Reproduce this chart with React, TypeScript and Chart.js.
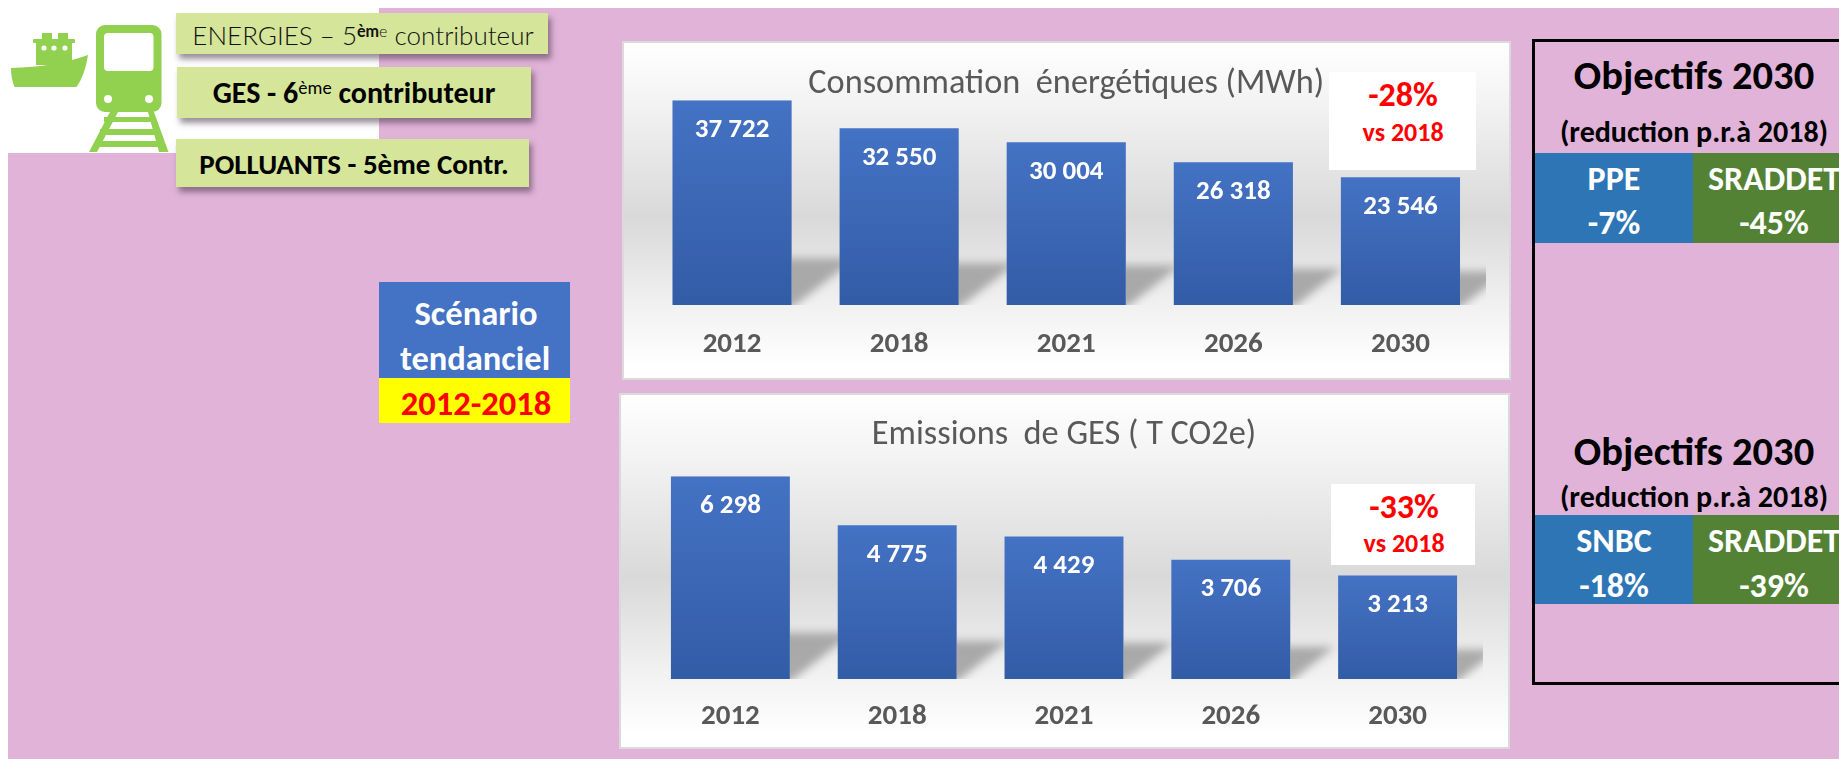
import React, { useEffect, useRef } from "react";
import { Chart, registerables } from "chart.js";

Chart.register(...registerables);

const years = ["2012", "2018", "2021", "2026", "2030"];
const energyValues = [37722, 32550, 30004, 26318, 23546];
const gesValues = [6298, 4775, 4429, 3706, 3213];
const energyTitle = "Consommation  énergétiques (MWh)";
const gesTitle = "Emissions  de GES ( T CO2e)";

const FONT = "Carlito, Lato, 'Open Sans', sans-serif";
const PINK = "#E1B3D9";
const BOXGREEN = "#D5E59A";

const fmt = (n: number) => String(n).replace(/\B(?=(\d{3})+$)/g, " ");

const barDecor = {
  id: "barDecor",
  beforeDatasetsDraw(chart: any) {
    const ctx = chart.ctx;
    chart.getDatasetMeta(0).data.forEach((el: any) => {
      const right = el.x + el.width / 2;
      const h = (el.base - el.y) * 0.17 + 12;
      const run = h * 1.36;
      ctx.save();
      ctx.beginPath();
      ctx.rect(right, el.base - h - 20, chart.chartArea.right + 2 - right, h + 20);
      ctx.clip();
      ctx.filter = "blur(4px)";
      ctx.fillStyle = "rgba(165,165,165,0.95)";
      ctx.beginPath();
      ctx.moveTo(right - 20, el.base - h);
      ctx.lineTo(right + run, el.base - h);
      ctx.lineTo(right, el.base + 3);
      ctx.lineTo(right - 20, el.base + 3);
      ctx.closePath();
      ctx.fill();
      ctx.restore();
    });
  },
  afterDatasetsDraw(chart: any) {
    const ctx = chart.ctx;
    const values = chart.data.datasets[0].data;
    ctx.save();
    ctx.fillStyle = "#FFFFFF";
    ctx.font = `bold 27px ${FONT}`;
    ctx.textAlign = "center";
    ctx.textBaseline = "middle";
    chart.getDatasetMeta(0).data.forEach((el: any, i: number) => {
      ctx.fillText(fmt(values[i]), el.x, el.y + 30);
    });
    ctx.restore();
  },
};

type BarProps = {
  values: number[];
  title: string;
  left: number;
  top: number;
  width: number;
  height: number;
  padLeft: number;
  padRight: number;
  titleTop: number;
  titleBottom: number;
  tickPad: number;
  padBottom: number;
};

function BarPanel(p: BarProps) {
  const ref = useRef<HTMLCanvasElement>(null);
  useEffect(() => {
    const chart = new Chart(ref.current as HTMLCanvasElement, {
      type: "bar",
      data: {
        labels: years,
        datasets: [
          {
            data: p.values,
            barPercentage: 0.713,
            categoryPercentage: 1,
            backgroundColor: (c: any) => {
              const y = c.chart.scales?.y;
              const v = c.raw;
              if (!y || typeof v !== "number") return "#4472C4";
              const y0 = y.getPixelForValue(v);
              const y1 = y.getPixelForValue(0);
              if (!Number.isFinite(y0) || !Number.isFinite(y1)) return "#4472C4";
              const g = c.chart.ctx.createLinearGradient(0, y0, 0, y1);
              g.addColorStop(0, "#4472C4");
              g.addColorStop(1, "#335CA6");
              return g;
            },
          },
        ],
      },
      options: {
        animation: false,
        responsive: false,
        layout: { padding: { left: p.padLeft, right: p.padRight, bottom: p.padBottom, top: 0 } },
        plugins: {
          legend: { display: false },
          tooltip: { enabled: false },
          title: {
            display: true,
            text: p.title,
            color: "#595959",
            font: { family: FONT, size: 34.3, weight: "normal", lineHeight: 1 },
            padding: { top: p.titleTop, bottom: p.titleBottom },
          },
        },
        scales: {
          x: {
            grid: { display: false, drawTicks: false },
            border: { display: false },
            afterFit: (axis: any) => {
              axis.height = p.tickPad + 34.8;
            },
            ticks: {
              color: "#595959",
              font: { family: FONT, size: 29, weight: "bold", lineHeight: 1.2 },
              padding: p.tickPad,
              maxRotation: 0,
            },
          },
          y: { display: false, min: 0, max: Math.max(...p.values) },
        },
      },
      plugins: [barDecor],
    } as any);
    return () => chart.destroy();
  }, []);
  return (
    <div
      style={{
        position: "absolute",
        left: p.left,
        top: p.top,
        width: p.width,
        height: p.height,
        background: "linear-gradient(180deg,#FFFFFF 0%,#F6F6F6 14%,#D9D9D9 52%,#F1F1F1 78%,#FFFFFF 96%)",
        outline: "2px solid #DADADA",
        outlineOffset: -2,
      }}
    >
      <canvas ref={ref} width={p.width} height={p.height} style={{ display: "block" }} />
    </div>
  );
}

function T(props: { x: number; y: number; size: number; color?: string; weight?: number; family?: string; spacing?: number; children: React.ReactNode }) {
  return (
    <div
      style={{
        position: "absolute",
        left: props.x,
        top: props.y,
        transform: "translate(-50%,-50%)",
        whiteSpace: "pre",
        fontFamily: props.family ?? FONT,
        fontSize: props.size,
        fontWeight: props.weight ?? 700,
        color: props.color ?? "#000",
        letterSpacing: props.spacing ?? 0,
        lineHeight: 1,
      }}
    >
      {props.children}
    </div>
  );
}

function Rect(props: { x: number; y: number; w: number; h: number; bg: string; shadow?: string }) {
  return (
    <div
      style={{
        position: "absolute",
        left: props.x,
        top: props.y,
        width: props.w,
        height: props.h,
        background: props.bg,
        boxShadow: props.shadow,
      }}
    />
  );
}

function Icons() {
  const G = "#92D050";
  return (
    <svg width={180} height={155} style={{ position: "absolute", left: 0, top: 0 }}>
      <g fill={G}>
        <path d="M11 68 Q55 67 88 55 Q85 75 76.5 87 L14.5 87 Q11 78 11 68 Z" />
        <rect x={36} y={41} width={36} height={24} />
        <rect x={33} y={39} width={42} height={4} rx={1} />
        <rect x={42} y={33} width={10} height={7} />
        <rect x={58} y={33} width={10} height={7} />
        <rect x={96} y={25} width={65.5} height={87} rx={9} />
        <path d="M110 112 L118 112 L97 152 L89 152 Z" />
        <path d="M148 112 L154 112 L168.5 152 L159 152 Z" />
        <rect x={104} y={117} width={50} height={5} />
        <rect x={100} y={129} width={58} height={6} />
        <rect x={95} y={141} width={68} height={6} />
      </g>
      <g fill="#fff">
        <circle cx={44} cy={48} r={2.6} />
        <circle cx={54} cy={48} r={2.6} />
        <circle cx={65} cy={48} r={2.6} />
        <rect x={104} y={33} width={49.5} height={38} rx={4} />
        <circle cx={108} cy={99} r={4} />
        <circle cx={149} cy={99} r={4} />
      </g>
    </svg>
  );
}

function Objectives(p: { y1: number; y2: number; cellTop: number; cellH: number; left: string; leftValue: string; rightValue: string; yA: number; yB: number }) {
  return (
    <>
      <T x={1694} y={p.y1} size={40.5}>Objectifs 2030</T>
      <T x={1694} y={p.y2} size={30}>(reduction p.r.à 2018)</T>
      <Rect x={1535} y={p.cellTop} w={158} h={p.cellH} bg="#2E75B6" />
      <Rect x={1693} y={p.cellTop} w={146} h={p.cellH} bg="#548235" />
      <T x={1614} y={p.yA} size={34} color="#fff">{p.left}</T>
      <T x={1614} y={p.yB} size={34} color="#fff">{p.leftValue}</T>
      <T x={1774} y={p.yA} size={34} color="#fff">SRADDET</T>
      <T x={1774} y={p.yB} size={34} color="#fff">{p.rightValue}</T>
    </>
  );
}

export default function App() {
  const shadow = "3px 5px 6px rgba(70,50,70,0.55)";
  const sup: React.CSSProperties = { fontSize: "0.62em", verticalAlign: "0.5em", lineHeight: 0 };
  return (
    <div style={{ position: "absolute", left: 0, top: 0, width: 1839, height: 759, overflow: "hidden", background: "#fff" }}>
      <Rect x={8} y={153} w={1831} h={606} bg={PINK} />
      <Rect x={379} y={8} w={1460} h={751} bg={PINK} />
      <Icons />

      <Rect x={176} y={13} w={372} h={41} bg={BOXGREEN} shadow={shadow} />
      <T x={363} y={35} size={26} weight={300} color="#111" family="Lato, sans-serif">
        ENERGIES – 5<span style={{ ...sup, fontWeight: 700 }}>èm</span><span style={sup}>e</span> contributeur
      </T>
      <Rect x={177} y={67} w={354} h={51} bg={BOXGREEN} shadow={shadow} />
      <T x={354} y={93} size={30}>GES - 6<span style={{ ...sup, fontWeight: 400 }}>ème</span> contributeur</T>
      <Rect x={176} y={139} w={353} h={48} bg={BOXGREEN} shadow={shadow} />
      <T x={354} y={164} size={29}>POLLUANTS - 5ème Contr.</T>

      <Rect x={379} y={282} w={191} h={96} bg="#4472C4" />
      <Rect x={379} y={378} w={191} h={45} bg="#FFFF00" />
      <T x={476} y={313} size={34.5} color="#fff">Scénario</T>
      <T x={475} y={358} size={34.5} color="#fff">tendanciel</T>
      <T x={476} y={403} size={34.5} color="#FF0000">2012-2018</T>

      <BarPanel values={energyValues} title={energyTitle} left={622} top={41} width={889} height={339}
        padLeft={26.5} padRight={27} titleTop={26} titleBottom={-1} tickPad={22.6} padBottom={17.6} />
      <BarPanel values={gesValues} title={gesTitle} left={619} top={393} width={891} height={356}
        padLeft={28} padRight={29} titleTop={25} titleBottom={24} tickPad={20.6} padBottom={14.6} />

      <Rect x={1329} y={72} w={147} h={98} bg="#fff" />
      <T x={1403} y={95} size={34} color="#FF0000">-28%</T>
      <T x={1403} y={132} size={26} color="#FF0000">vs 2018</T>
      <Rect x={1331} y={484} w={144} h={81} bg="#fff" />
      <T x={1404} y={507} size={34} color="#FF0000">-33%</T>
      <T x={1404} y={543} size={26} color="#FF0000">vs 2018</T>

      <div style={{ position: "absolute", left: 1532, top: 39, width: 400, height: 646, boxSizing: "border-box", border: "3px solid #000" }} />
      <Objectives y1={75} y2={132} cellTop={153} cellH={90} left="PPE" leftValue="-7%" rightValue="-45%" yA={179} yB={223} />
      <Objectives y1={451} y2={497} cellTop={515} cellH={89} left="SNBC" leftValue="-18%" rightValue="-39%" yA={541} yB={586} />
    </div>
  );
}
